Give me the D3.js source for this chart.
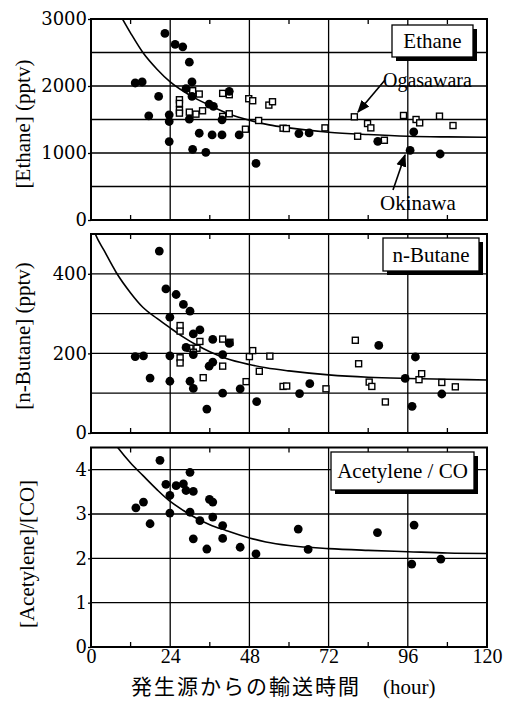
<!DOCTYPE html>
<html><head><meta charset="utf-8">
<script src="https://cdn.jsdelivr.net/npm/d3@7"></script>
<style>body{margin:0;background:#fff}svg{display:block}</style>
</head><body>
<script>
// ---- data (hours, value) ----
const xTicks = [0, 24, 48, 72, 96, 120];
const xMinor = [12, 36, 60, 84, 108];
const ethaneTicks = [0, 1000, 2000, 3000];
const butaneTicks = [0, 200, 400];
const acetTicks = [0, 1, 2, 3, 4];

const ethaneOkinawa = [[22.4,2785],[25.5,2620],[27.8,2585],[29.8,2355],[13.4,2045],[15.5,2060],[30.6,2060],[28.8,1960],[30.6,1845],[20.5,1845],[41.9,1920],[35.8,1730],[37.1,1695],[17.5,1555],[23.7,1570],[23.7,1470],[29.8,1505],[39.7,1495],[32.8,1295],[36.7,1270],[39.7,1270],[44.9,1270],[23.7,1170],[30.8,1055],[34.8,1010],[50.0,845],[63.0,1290],[66.1,1300],[86.9,1175],[97.8,1315],[96.7,1040],[105.8,985]];
const ethaneOgasawara = [[26.8,1795],[26.8,1740],[26.8,1640],[26.8,1595],[30.8,1930],[32.8,1880],[29.8,1610],[31.8,1580],[33.8,1630],[39.9,1890],[41.9,1870],[39.9,1545],[41.9,1585],[47.8,1810],[49.0,1780],[46.8,1355],[50.8,1485],[53.9,1715],[55.0,1765],[58.2,1370],[59.2,1365],[70.9,1375],[79.8,1540],[80.8,1250],[83.8,1440],[84.8,1375],[88.9,1190],[94.7,1560],[98.5,1500],[99.6,1450],[105.6,1550],[109.7,1410]];
const ethaneFit = [[8.5,3090],[12,2790],[16,2480],[20,2250],[24,2060],[30,1860],[36,1710],[42,1580],[48,1490],[54,1420],[60,1375],[72,1310],[84,1275],[96,1250],[108,1240],[120,1235]];

const butaneOkinawa = [[20.7,457],[22.7,362],[25.8,348],[28.0,323],[30.0,306],[23.9,291],[33.0,259],[31.0,249],[36.9,235],[28.8,215],[13.4,192],[15.9,194],[23.9,194],[31.0,197],[39.9,197],[41.9,225],[36.9,178],[35.8,168],[17.9,138],[23.9,130],[30.0,130],[31.0,112],[39.9,100],[45.2,111],[50.2,79],[35.1,60],[63.2,99],[66.3,124],[87.2,220],[98.3,191],[95.2,137],[97.3,67],[106.3,98]];
const butaneOgasawara = [[27.0,270],[27.0,256],[33.0,230],[30.0,213],[32.1,213],[31.0,203],[27.0,189],[27.0,176],[39.9,236],[42.1,228],[39.9,168],[34.0,139],[48.0,192],[49.0,207],[47.0,129],[51.0,155],[54.2,193],[58.2,117],[59.3,118],[71.2,111],[80.1,233],[81.1,174],[84.3,128],[85.1,117],[89.2,78],[99.4,134],[100.2,149],[106.3,127],[110.4,116]];
const butaneFit = [[0,530],[1.3,500],[4,458],[7.6,404],[12,352],[15.7,316],[20,288],[24,264],[28,241],[32,221],[36,204],[41,187],[48,172],[53,164],[60,156],[72,146],[84,140],[96,137],[108,135],[120,133]];

const acetOkinawa = [[20.9,4.21],[22.7,3.67],[23.9,3.42],[23.9,3.02],[25.8,3.64],[28.0,3.68],[28.8,3.53],[31.0,3.51],[30.0,3.94],[13.6,3.14],[15.9,3.27],[17.9,2.78],[30.0,3.04],[33.0,2.85],[35.9,3.33],[36.9,3.27],[36.9,2.93],[39.9,2.74],[31.0,2.44],[39.9,2.45],[35.1,2.21],[45.2,2.25],[50.0,2.10],[62.8,2.66],[65.8,2.20],[86.8,2.58],[97.9,2.75],[97.2,1.87],[106.0,1.98]];
const acetFit = [[7.5,4.56],[8.4,4.47],[12,4.15],[15.7,3.87],[20,3.55],[23.7,3.30],[28,3.08],[31.8,2.91],[36,2.76],[40.9,2.63],[48,2.46],[53,2.37],[60,2.29],[72,2.22],[84,2.18],[96,2.15],[108,2.12],[120,2.11]];

const panelNames = ["Ethane", "n-Butane", "Acetylene / CO"];
const yTitles = ["[Ethane] (pptv)", "[n-Butane] (pptv)", "[Acetylene]/[CO]"];
const xTitleJa = "発生源からの輸送時間";
const xTitleUnit = "(hour)";

// ---- layout ----
const W = 513, H = 701;
const serif = "'Liberation Serif','Times New Roman',serif";
const tickFont = "'DejaVu Serif',serif";
const svg = d3.select("body").append("svg").attr("width", W).attr("height", H);
const x = d3.scaleLinear().domain([0, 120]).range([91, 487]);

const panels = [
  {dom:[0,3000], rng:[220,19], grid:d3.range(500,3000,500), ticks:ethaneTicks, oki:ethaneOkinawa, oga:ethaneOgasawara, fit:ethaneFit,
   box:{x:392,y:25,w:81,h:32}, titleX:30, titleY:124},
  {dom:[0,500], rng:[433,234], grid:d3.range(100,500,100), ticks:butaneTicks, oki:butaneOkinawa, oga:butaneOgasawara, fit:butaneFit,
   box:{x:383,y:238,w:96,h:33}, titleX:30, titleY:336},
  {dom:[0,4.5], rng:[647,447.5], grid:[1,2,3,4], ticks:acetTicks, oki:acetOkinawa, oga:[], fit:acetFit,
   box:{x:331,y:452,w:143,h:38}, titleX:34, titleY:554}
];

panels.forEach((p, i) => {
  const y = d3.scaleLinear().domain(p.dom).range(p.rng);
  const g = svg.append("g");
  const top = p.rng[1], bot = p.rng[0];
  const clipId = "clip" + i;
  svg.append("clipPath").attr("id", clipId).append("rect")
    .attr("x", x(0)).attr("y", top).attr("width", x(120) - x(0)).attr("height", bot - top);

  // gridlines
  g.selectAll(".hg").data(p.grid).join("line")
    .attr("x1", x(0)).attr("x2", x(120)).attr("y1", d => y(d)).attr("y2", d => y(d))
    .attr("stroke", "#000").attr("stroke-width", 1.3);
  g.selectAll(".vg").data(xTicks.slice(1, -1)).join("line")
    .attr("x1", d => x(d)).attr("x2", d => x(d)).attr("y1", top).attr("y2", bot)
    .attr("stroke", "#000").attr("stroke-width", 1.3);
  // minor ticks inside top and bottom
  g.selectAll(".mt").data(xMinor).join("line")
    .attr("x1", d => x(d)).attr("x2", d => x(d)).attr("y1", top).attr("y2", top + 5)
    .attr("stroke", "#000").attr("stroke-width", 1.3);
  g.selectAll(".mb").data(xMinor).join("line")
    .attr("x1", d => x(d)).attr("x2", d => x(d)).attr("y1", bot).attr("y2", bot - 5)
    .attr("stroke", "#000").attr("stroke-width", 1.3);

  // left axis via d3
  const ax = svg.append("g").attr("transform", `translate(${x(0)},0)`)
    .call(d3.axisLeft(y).tickValues(p.ticks).tickSize(3).tickPadding(1).tickFormat(d3.format("d")));
  ax.select(".domain").remove();
  ax.selectAll("line").attr("stroke", "#000").attr("stroke-width", 1.3);
  ax.selectAll("text").attr("font-family", tickFont).attr("font-size", 18).attr("fill", "#000");

  // frame
  g.append("rect").attr("x", x(0)).attr("y", top).attr("width", x(120) - x(0)).attr("height", bot - top)
    .attr("fill", "none").attr("stroke", "#000").attr("stroke-width", 2);

  // fit curve
  g.append("path").datum(p.fit).attr("clip-path", `url(#${clipId})`)
    .attr("d", d3.line().x(d => x(d[0])).y(d => y(d[1])).curve(d3.curveMonotoneX))
    .attr("fill", "none").attr("stroke", "#000").attr("stroke-width", 1.6);

  // points
  g.selectAll(".oga").data(p.oga).join("rect")
    .attr("x", d => x(d[0]) - 3).attr("y", d => y(d[1]) - 3).attr("width", 6).attr("height", 6)
    .attr("fill", "#fff").attr("stroke", "#000").attr("stroke-width", 1.4);
  g.selectAll(".oki").data(p.oki).join("circle")
    .attr("cx", d => x(d[0])).attr("cy", d => y(d[1])).attr("r", 4.4).attr("fill", "#000");

  // legend box with shadow
  const b = p.box;
  g.append("rect").attr("x", b.x + 4).attr("y", b.y + 4).attr("width", b.w).attr("height", b.h).attr("fill", "#000");
  g.append("rect").attr("x", b.x).attr("y", b.y).attr("width", b.w).attr("height", b.h)
    .attr("fill", "#fff").attr("stroke", "#000").attr("stroke-width", 1.3);
  g.append("text").attr("x", b.x + b.w / 2).attr("y", b.y + b.h / 2 + 7).attr("text-anchor", "middle")
    .attr("font-family", serif).attr("font-size", 21).text(panelNames[i]);

  // y title
  svg.append("text").attr("transform", `translate(${p.titleX},${p.titleY}) rotate(-90)`).attr("text-anchor", "middle")
    .attr("font-family", serif).attr("font-size", 21).text(yTitles[i]);
});

// x axis labels (bottom)
const xa = svg.append("g").attr("transform", "translate(0,647)")
  .call(d3.axisBottom(x).tickValues(xTicks).tickSize(0).tickPadding(2));
xa.select(".domain").remove();
xa.selectAll("text").attr("font-family", serif).attr("font-size", 20).attr("fill", "#000");

const xt = svg.append("text").attr("x", 131).attr("y", 694).attr("font-size", 21);
xt.append("tspan").attr("font-family", "'Noto Sans CJK JP',sans-serif").attr("letter-spacing", 2).text(xTitleJa);
xt.append("tspan").attr("dx", 22).attr("font-family", serif).text(xTitleUnit);

// annotations on the Ethane panel
const defs = svg.append("defs");
defs.append("marker").attr("id", "arr").attr("viewBox", "0 0 10 10").attr("refX", 9).attr("refY", 5)
  .attr("markerWidth", 8).attr("markerHeight", 8).attr("orient", "auto")
  .append("path").attr("d", "M0,1 L10,5 L0,9 Z").attr("fill", "#000");
svg.append("line").attr("x1", 385).attr("y1", 80).attr("x2", 358).attr("y2", 112)
  .attr("stroke", "#000").attr("stroke-width", 1.6).attr("marker-end", "url(#arr)");
svg.append("text").attr("x", 383).attr("y", 87).attr("font-family", serif).attr("font-size", 20).text("Ogasawara");
svg.append("line").attr("x1", 393).attr("y1", 190).attr("x2", 405).attr("y2", 155)
  .attr("stroke", "#000").attr("stroke-width", 1.6).attr("marker-end", "url(#arr)");
svg.append("text").attr("x", 380).attr("y", 210).attr("font-family", serif).attr("font-size", 21).text("Okinawa");
</script>
</body></html>
